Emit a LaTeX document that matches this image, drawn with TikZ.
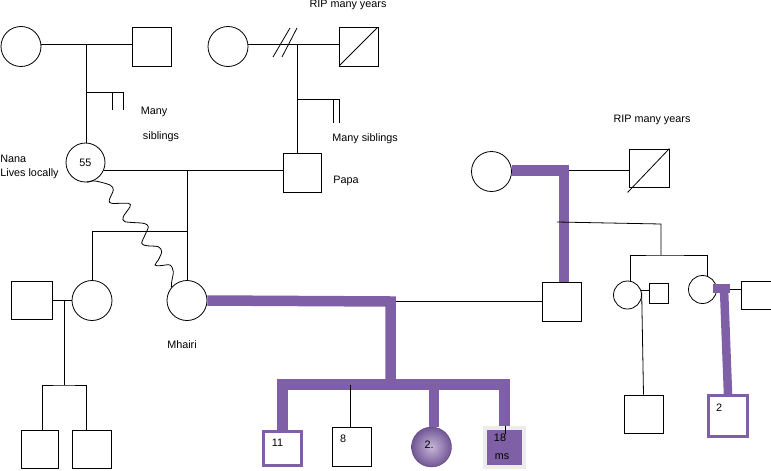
\documentclass[tikz,border=0pt]{standalone}
\usepackage{fontspec}
\setmainfont{Liberation Sans}
\usetikzlibrary{calc}
\definecolor{kinpurple}{RGB}{127,95,166}

\begin{document}
\begin{tikzpicture}[x=1pt, y=-1pt, line width=0.8pt,
        every node/.style={font=\fontsize{10.8}{12}\selectfont},
        female/.style={draw, circle, minimum size=40pt, inner sep=0pt},
        male/.style={draw, rectangle, minimum width=39pt, minimum height=39pt, inner sep=0pt},
        dead/.style={path picture={\draw (path picture bounding box.south west) -- (path picture bounding box.north east);}},
        kinline/.style={draw=kinpurple, line width=10.5pt},
        lbl/.style={inner sep=0pt}]
        \useasboundingbox (0,0) rectangle (771,471);

        % grandparents
        \node[female] (gma1) at (21,46.5) {};
        \node[male] (gpa1) at (152,46.5) {};
        \node[female] (gma2) at (228,46.5) {};
        \node[male, dead] (gpa2) at (358.5,46.5) {};
        \node[female] (gma3) at (491.5,171.5) {};
        \node[male, minimum width=40pt, minimum height=38pt] (gpa3) at (649,168) {};

        % parents and their siblings
        \node[female, minimum size=39pt] (nana) at (85.5,162.5) {55};
        \node[male, minimum width=38pt] (papa) at (302,172.5) {};
        \node[male] (rpapa) at (561.5,301.5) {};
        \node[female, minimum size=28pt] (aunt1) at (627.5,295) {};
        \node[male, minimum width=19pt, minimum height=20pt] (uncle1) at (658.5,293) {};
        \node[female, minimum size=28pt] (aunt2) at (702.5,289.5) {};
        \node[male, minimum width=30pt, minimum height=28pt] (uncle2) at (756,295) {};
        \node[male, minimum width=41pt, minimum height=38pt] (inlaw) at (31.5,300) {};
        \node[female] (sister) at (92,300.5) {};
        \node[female] (mhairi) at (187,300.5) {};

        % children
        \node[male, minimum width=37pt, minimum height=38pt] (nephew1) at (39.5,449) {};
        \node[male, minimum height=38pt] (nephew2) at (91.5,449) {};
        \node[male, draw=kinpurple, line width=3pt, minimum width=38pt, minimum height=34pt] (kid1) at (282.5,448) {};
        \node[male] (kid2) at (351.5,446.5) {};
        \node[female, shading=radial, inner color=kinpurple!45!white, outer color=kinpurple!90!black, draw=kinpurple!70!black, line width=0.4pt] (kid3) at (431.5,447) {};
        \node[male, fill=kinpurple, draw=gray!15, line width=4pt] (kid4) at (504.5,447) {};
        \node[male, minimum height=38pt] (cousin1) at (643.5,414) {};
        \node[male, draw=kinpurple, line width=3pt, minimum height=41pt] (cousin2) at (728,416) {};

        % ages
        \node[lbl] (age1) at (277.5,443) {11};
        \node[lbl] (age2) at (343,438.5) {8};
        \node[lbl] (age3) at (429,445) {2.};
        \node[lbl] (age4) at (500,438) {18};
        \node[lbl] (age4b) at (502,457) {ms};
        \node[lbl] (age5) at (719,408) {2};

        % notes
        \node[lbl] (rip1) at (348,5) {RIP many years};
        \node[lbl] (sib1a) at (154,112) {Many};
        \node[lbl] (sib1b) at (161,137) {siblings};
        \node[lbl, anchor=west] (nana1) at (0,159) {Nana};
        \node[lbl, anchor=west] (nana2) at (0,174) {Lives locally};
        \node[lbl, anchor=west] (sib2) at (332,139) {Many siblings};
        \node[lbl, anchor=west] (papalbl) at (333,181) {Papa};
        \node[lbl] (rip2) at (652,120) {RIP many years};
        \node[lbl] (mhlbl) at (182,345) {Mhairi};

        % left side
        \coordinate (c1) at (86,44);
        \draw (c1 -| gma1.east) -- (c1 -| gpa1.west);
        \draw (c1) -- (c1 |- nana.north);
        \coordinate (s1) at (86,92);
        \draw (s1) -- ++(37,0) -- ++(0,18) (s1) ++(26,0) -- ++(0,18);

        \coordinate (c2) at (297,44);
        \draw (c2 -| gma2.east) -- (c2 -| gpa2.west);
        \draw (c2) ++(-24,13) -- ++(17,-29) (c2) ++(-15,13) -- ++(15,-29);
        \draw (c2) -- (c2 |- papa.north);
        \coordinate (s2) at (297,99);
        \draw (s2) -- ++(42,0) -- ++(0,24) (s2) ++(36,0) -- ++(0,24);

        \draw (nana.-22) -- (nana.-22 -| papa.west);
        \coordinate (c3) at (nana.-22 -| mhairi.north);
        \draw (c3) -- (mhairi.north);
        \coordinate (c4) at (mhairi.north |- 0,231);
        \draw (sister.north) |- (c4);
        \draw plot[smooth, tension=0.5] coordinates {(nana.-85) (95,181) (110,185) (113.3,190) (109.3,200) (111.7,203.3)
            (128.3,203.3) (130,206.7) (123.3,216.7) (125,221.7) (143.3,223.3) (148.3,226.7) (145,235) (141.7,243.3)
            (146.7,245.7) (158.3,246.7) (161.7,251.7) (158.3,260) (155,265) (160,265.7) (170,265) (173.3,271.7)
            (171.7,281.7) (mhairi.140)};

        \draw (inlaw.east) -- (inlaw.east -| sister.west);
        \coordinate (c5) at ($(inlaw.east)!0.6!(sister.west)$);
        \coordinate (c6) at (c5 |- 0,385);
        \draw (c5) -- (c6);
        \draw ([xshift=2.5pt]nephew1.north) |- (c6) -| ([xshift=-5.5pt]nephew2.north);

        % Mhairi's family
        \coordinate (j1) at (390.5,301.5);
        \coordinate (j2) at (390.5,384.5);
        \draw (j1) -- (rpapa.west);
        \draw[kinline] (mhairi.east) -- (j1) -- (j2);
        \draw[kinline] (kid1.north) |- (j2) -| (kid4.north);
        \draw[kinline] ([xshift=2.5pt]kid3.north) -- ([xshift=2.5pt]kid3.north |- j2);
        \draw ([xshift=-1.5pt]kid2.north) -- ([xshift=-1.5pt]kid2.north |- j2);
        \draw ([xshift=0.5pt]kid4.north) -- ++(0,8);

        % right side
        \coordinate (r1) at (564,170.5);
        \draw (r1) -- (r1 -| gpa3.west);
        \draw ([shift={(-1,5)}]gpa3.south west) -- (gpa3.north east);
        \draw[kinline] (gma3.east |- r1) -- (r1) -- (r1 |- rpapa.north);
        \coordinate (r2) at (557,222);
        \coordinate (r3) at (661,224);
        \coordinate (r4) at (r3 |- 0,255);
        \draw (r2) -- (r3) -- (r4);
        \draw (aunt1.80) |- (r4) -| (aunt2.71);
        \draw (aunt1.20) -- (aunt1.20 -| uncle1.west);
        \draw (aunt1.10) -- (cousin1.north);
        \draw (aunt2.east) -- (aunt2.east -| uncle2.west);
        \coordinate (t1) at (721.5,288.5);
        \draw[kinline, line width=9pt] ([xshift=-8.5pt]t1) -- ([xshift=8.5pt]t1);
        \draw[kinline, line width=8.5pt] ([xshift=2.5pt]t1) -- (cousin2.north);

\end{tikzpicture}
\end{document}
